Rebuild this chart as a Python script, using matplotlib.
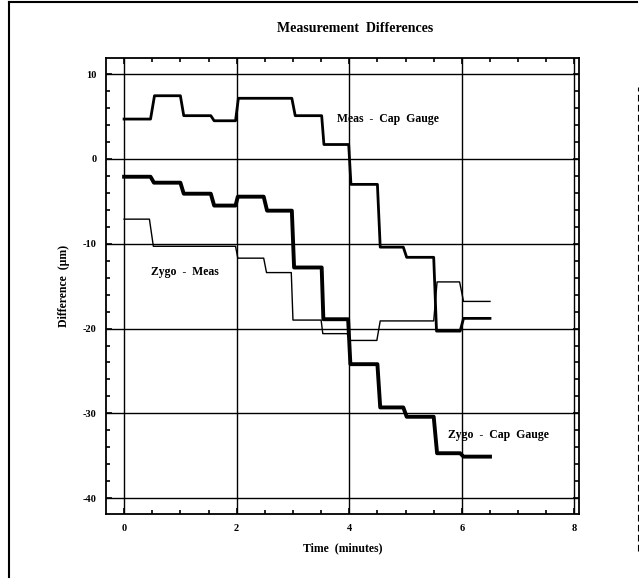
#--------------------
# Measurement Differences (scanned chart redraw)
#--------------------

import matplotlib
matplotlib.use("Agg")
import matplotlib.pyplot as plt
from matplotlib.ticker import MultipleLocator
from matplotlib.lines import Line2D

plt.rcParams["axes.unicode_minus"] = False

# ---------------------------
# Data (time in minutes, difference in um)
# ---------------------------
meas_cap_t = [0, 0.47, 0.54, 1.0, 1.06, 1.54, 1.6, 1.98, 2.03, 2.98, 3.04, 3.51, 3.55,
              3.99, 4.03, 4.5, 4.55, 4.96, 5.02, 5.5, 5.55, 5.97, 6.03, 6.5]
meas_cap_v = [4.7, 4.7, 7.45, 7.45, 5.1, 5.1, 4.5, 4.5, 7.15, 7.15, 5.1, 5.1, 1.7,
              1.7, -3.0, -3.0, -10.4, -10.4, -11.6, -11.6, -20.3, -20.3, -18.8, -18.8]

zygo_meas_t = [0, 0.45, 0.52, 1.98, 2.02, 2.48, 2.53, 2.97, 3.0, 3.5, 3.53, 3.96, 4.02,
               4.49, 4.55, 5.5, 5.56, 5.96, 6.03, 6.5]
zygo_meas_v = [-7.1, -7.1, -10.3, -10.3, -11.7, -11.7, -13.4, -13.4, -19.0, -19.0, -20.6,
               -20.6, -21.4, -21.4, -19.1, -19.1, -14.5, -14.5, -16.8, -16.8]

zygo_cap_t = [0, 0.47, 0.53, 1.0, 1.06, 1.54, 1.6, 1.98, 2.02, 2.48, 2.54, 2.98, 3.02,
              3.51, 3.54, 3.98, 4.02, 4.5, 4.55, 4.96, 5.02, 5.5, 5.56, 5.97, 6.03, 6.5]
zygo_cap_v = [-2.1, -2.1, -2.8, -2.8, -4.1, -4.1, -5.5, -5.5, -4.45, -4.45, -6.1, -6.1,
              -12.8, -12.8, -18.9, -18.9, -24.2, -24.2, -29.3, -29.3, -30.4, -30.4,
              -34.7, -34.7, -35.1, -35.1]

x_ticks = [0, 2, 4, 6, 8]
y_ticks = [10, 0, -10, -20, -30, -40]

FONT = "Liberation Serif"

fig = plt.figure(figsize=(6.39, 5.8), dpi=100)
ax = fig.add_axes([0.166, 0.114, 0.740, 0.786])

# grid at major ticks
for xv in x_ticks:
    ax.axvline(xv, color="black", lw=1.0, zorder=1)
for yv in y_ticks:
    ax.axhline(yv, color="black", lw=1.0, zorder=1)

ax.plot(meas_cap_t, meas_cap_v, color="black", lw=2.0, zorder=3)
ax.plot(zygo_meas_t, zygo_meas_v, color="black", lw=1.0, zorder=3)
ax.plot(zygo_cap_t, zygo_cap_v, color="black", lw=2.8, zorder=3)

ax.set_xlim(-0.32, 8.08)
ax.set_ylim(-41.85, 11.9)
ax.set_xticks(x_ticks)
ax.set_yticks(y_ticks)
ax.xaxis.set_minor_locator(MultipleLocator(0.5))
ax.yaxis.set_minor_locator(MultipleLocator(2))
ax.tick_params(which="both", direction="in", top=True, right=True, width=1.2)
ax.tick_params(which="major", length=4, labelsize=7.5, pad=7)
ax.tick_params(which="minor", length=3)
for lab in ax.get_xticklabels() + ax.get_yticklabels():
    lab.set_fontfamily(FONT)
    lab.set_fontweight("bold")
for sp in ax.spines.values():
    sp.set_linewidth(1.3)

ax.set_xlabel("Time  (minutes)", fontfamily=FONT, fontweight="bold", fontsize=8.5, labelpad=7)
ax.set_ylabel("Difference  (μm)", fontfamily=FONT, fontweight="bold", fontsize=8.5, labelpad=9)
fig.text(0.556, 0.951, "Measurement  Differences", ha="center", va="center",
         fontfamily=FONT, fontweight="bold", fontsize=10)

# curve labels
ax.text(3.78, 4.75, "Meas  -  Cap  Gauge", fontfamily=FONT, fontweight="bold", fontsize=8.5, va="center")
ax.text(0.47, -13.3, "Zygo  -  Meas", fontfamily=FONT, fontweight="bold", fontsize=8.5, va="center")
ax.text(5.75, -32.5, "Zygo  -  Cap  Gauge", fontfamily=FONT, fontweight="bold", fontsize=8.5, va="center")

# scanned page border
W, H = 639, 580
fig.add_artist(Line2D([9 / W, 9 / W], [3 / H, 1 - 2 / H], color="black", lw=1.5))
fig.add_artist(Line2D([9 / W, 1 - 2 / W], [1 - 2 / H, 1 - 2 / H], color="black", lw=1.5))
fig.add_artist(Line2D([1 - 1.5 / W, 1 - 1.5 / W], [0.05, 0.85], color="black", lw=0.8, ls=(0, (6, 3))))

fig.savefig("out.png", dpi=100)
